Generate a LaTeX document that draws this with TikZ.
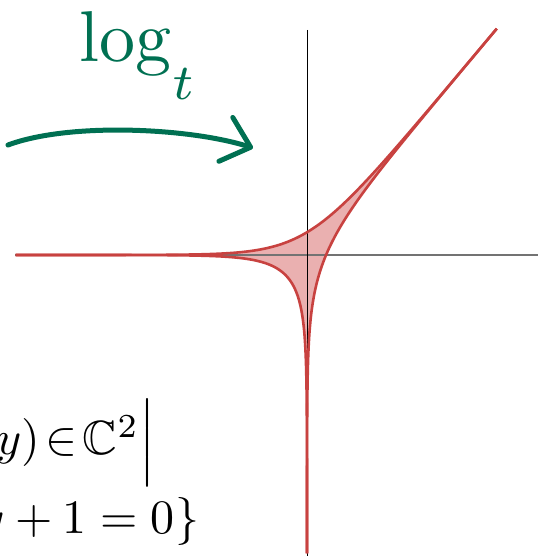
\documentclass[tikz,border=0pt]{standalone}
\usepackage{amssymb}
\usetikzlibrary{arrows.meta}
\definecolor{inkgreen}{RGB}{0,112,82}
\definecolor{amoebared}{RGB}{200,66,64}
\definecolor{amoebafill}{RGB}{234,176,176}

\begin{document}
\begin{tikzpicture}[x=1pt,y=1pt,>=Latex]
  \useasboundingbox (0,0) rectangle (538,556);

  % amoeba of 1+x+y=0, origin where the axes cross
  \begin{scope}[x=27.5pt,y=32.8pt,shift={(307pt,301pt)}]
    \fill[amoebafill]
      plot[domain=-10.6:6.9,samples=160,variable=\u] ({\u},{max(\u,0)+ln(1+exp(-abs(\u)))})
      -- plot[domain=6.9:-9.1,samples=160,variable=\v] ({max(\v,0)+ln(1+exp(-abs(\v)))},{\v})
      -- plot[domain=9.1:-10.6,samples=200,variable=\t] ({-max(-(\t),0)-ln(1+exp(-abs(\t)))},{-max(\t,0)-ln(1+exp(-abs(\t)))})
      -- cycle;
  \end{scope}

  % axes
  \draw[line width=1.8pt,black!55] (15,301) -- (538,301);
  \draw[line width=0.9pt] (307,526) -- (307,0);

  \begin{scope}[x=27.5pt,y=32.8pt,shift={(307pt,301pt)},amoebared,line width=2.6pt]
    \draw plot[domain=-10.6:6.9,samples=160,variable=\u] ({\u},{max(\u,0)+ln(1+exp(-abs(\u)))});
    \draw plot[domain=6.9:-9.1,samples=160,variable=\v] ({max(\v,0)+ln(1+exp(-abs(\v)))},{\v});
    \draw plot[domain=9.1:-10.6,samples=200,variable=\t] ({-max(-(\t),0)-ln(1+exp(-abs(\t)))},{-max(\t,0)-ln(1+exp(-abs(\t)))});
  \end{scope}

  % the map
  \node[inkgreen,scale=7.2,inner sep=0pt,anchor=base west] (logt) at (78,494)
    {$\log_{\raisebox{-2.8pt}{$\scriptstyle t$}}$};
  \coordinate (mapstart) at (8,411);
  \coordinate (mapend) at (253,408);
  \draw[inkgreen,line width=5pt,line cap=round,-{Straight Barb[length=26pt,width=46pt,round]}]
    (mapstart) .. controls (70,434) and (190,428) .. (mapend);

  % the curve
  \node[scale=4.8,inner sep=0pt,anchor=base east] (setline) at (156,101)
    {$\thickmuskip=2mu (x,y)\in\mathbb{C}^2\Big|$};
  \node[scale=4.8,inner sep=0pt,anchor=base east] (eqline) at (200,23)
    {$\medmuskip=4mu\thickmuskip=5mu x+y+1=0\}$};
\end{tikzpicture}
\end{document}
